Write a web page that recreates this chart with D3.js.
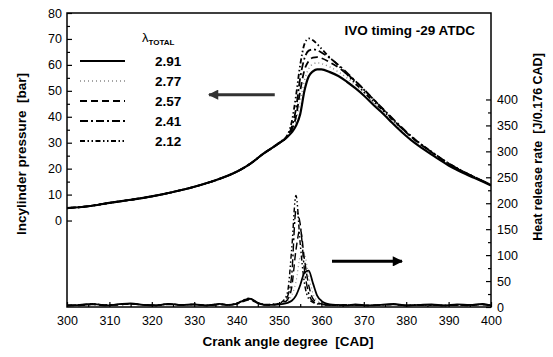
<!DOCTYPE html>
<html><head><meta charset="utf-8">
<script src="https://cdn.jsdelivr.net/npm/d3@7"></script>
<style>
body{margin:0;background:#fff}
svg{display:block}
text{font-family:"Liberation Sans",Arial,sans-serif;fill:#000;white-space:pre}
</style>
</head><body>
<svg id="c" width="553" height="357"></svg>
<script>
// ---------- data ----------
const lambdas = ["2.91", "2.77", "2.57", "2.41", "2.12"];
const cadP = [300,305,310,315,320,325,330,335,340,342,344,346,348,350,352,353,354,355,356,357,358,359,360,362,364,366,368,370,372,374,376,378,380,382,384,386,388,390,392,394,396,398,400];
const p291 = [4.8,5.5,6.8,8.0,9.3,11.0,13.0,15.5,18.8,20.6,22.8,25.4,27.6,29.8,32.3,34.0,36.5,41.0,50.0,55.5,57.5,58.3,58.3,57.2,55.7,53.5,51.0,48.2,45.0,42.0,38.8,35.6,32.6,29.9,27.6,25.4,23.3,21.2,19.5,17.9,16.5,15.0,13.5];
const p277 = [4.8,5.5,6.8,8.0,9.3,11.0,13.0,15.5,18.8,20.6,22.8,25.4,27.6,29.8,32.3,34.5,38.0,46.0,54.0,58.5,60.3,60.8,60.5,59.2,57.3,55.0,52.3,49.3,46.0,42.7,39.4,36.2,33.1,30.4,28.0,25.8,23.6,21.5,19.7,18.1,16.6,15.1,13.6];
const p257 = [4.8,5.5,6.8,8.0,9.3,11.0,13.0,15.5,18.8,20.6,22.8,25.4,27.6,29.8,32.3,35.0,40.0,50.0,58.0,61.5,62.8,63.0,62.6,61.0,59.0,56.5,53.7,50.6,47.2,43.8,40.4,37.1,34.0,31.1,28.6,26.3,24.0,21.9,20.0,18.3,16.8,15.2,13.7];
const p241 = [4.8,5.5,6.8,8.0,9.3,11.0,13.0,15.5,18.8,20.6,22.8,25.4,27.6,29.8,32.6,36.0,43.0,55.0,62.5,65.5,66.0,65.6,64.8,62.6,60.0,57.0,53.8,50.5,47.2,43.9,40.6,37.4,34.3,31.4,28.8,26.4,24.1,22.0,20.1,18.4,16.9,15.3,13.8];
const p212 = [4.8,5.5,6.8,8.0,9.3,11.0,13.0,15.5,18.8,20.6,22.8,25.4,27.6,30.0,33.0,38.0,48.0,60.0,68.0,70.2,69.5,68.0,66.3,62.8,59.8,56.4,52.9,49.6,46.3,43.2,40.1,37.0,34.0,31.3,28.8,26.5,24.2,22.1,20.2,18.5,16.9,15.3,13.8];

const cadH = [300,303,306,309,312,315,318,321,324,327,330,333,336,338,340,341,342,343,344,345,346,347,348,350,351,352,353,354,355,356,357,358,359,360,361,362,364,366,368,371,374,377,380,383,386,389,392,395,398,400];
const h291 = [3,4,6,3,5,7,4,3,6,4,5,3,6,4,6,10,14,16,13,8,5,4,4,5,6,8,12,22,42,66,70,46,22,12,7,5,4,3,5,3,4,6,3,4,5,3,5,4,6,3];
const h277 = [3,4,5,4,5,6,4,4,5,4,5,4,5,4,6,9,13,15,12,7,5,4,4,5,7,10,22,48,95,100,60,26,12,7,5,4,3,4,4,3,4,5,3,4,4,3,4,4,5,3];
const h257 = [3,3,5,4,4,6,4,3,5,4,5,3,5,4,6,9,12,14,11,7,5,4,4,6,8,14,38,110,150,92,42,16,9,6,5,4,3,4,4,3,4,5,3,4,4,3,4,3,5,3];
const h241 = [3,4,5,3,5,6,4,4,6,4,5,3,5,4,7,10,13,15,12,8,5,4,5,6,9,20,62,185,160,72,26,11,7,5,4,4,3,4,4,3,4,5,3,4,4,3,4,4,5,3];
const h212 = [3,4,6,4,5,6,4,3,6,4,5,3,6,4,7,11,15,17,13,8,6,5,5,7,12,28,112,215,122,46,16,9,6,5,4,4,3,4,4,3,4,5,3,4,4,3,4,4,5,3];

const xTicks = [300,310,320,330,340,350,360,370,380,390,400];
const pTicks = [0,10,20,30,40,50,60,70,80];
const hTicks = [0,50,100,150,200,250,300,350,400];

// ---------- layout ----------
const L = 67, R = 491, T = 13, B = 307;
const svg = d3.select("#c");
const x = d3.scaleLinear().domain([300, 400]).range([L, R]);
const yP = d3.scaleLinear().domain([-100/3, 80]).range([B, T]);
const yH = d3.scaleLinear().domain([0, 1700/3]).range([B, T]);

const styles = [
  {dash: null, w: 2.2, c: "#000"},
  {dash: "1,3", w: 1.4, c: "#888"},
  {dash: "7,4", w: 1.8, c: "#000"},
  {dash: "8,3,2,3", w: 1.8, c: "#000"},
  {dash: "5,2.5,1.5,2.5,1.5,2.5", w: 1.8, c: "#000"}
];

svg.append("clipPath").attr("id", "clip").append("rect")
  .attr("x", L).attr("y", T).attr("width", R - L).attr("height", B - T);

const g = svg.append("g").attr("clip-path", "url(#clip)");
const pSeries = [p291, p277, p257, p241, p212];
const hSeries = [h291, h277, h257, h241, h212];
const lineP = d3.line().x((d, i) => x(cadP[i])).y(d => yP(d)).curve(d3.curveMonotoneX);
const lineH = d3.line().x((d, i) => x(cadH[i])).y(d => yH(d)).curve(d3.curveMonotoneX);

[1, 2, 3, 4, 0].forEach(k => {
  const s = styles[k];
  g.append("path").attr("d", lineP(pSeries[k])).attr("fill", "none")
    .attr("stroke", s.c).attr("stroke-width", s.w).attr("stroke-dasharray", s.dash);
  g.append("path").attr("d", lineH(hSeries[k])).attr("fill", "none")
    .attr("stroke", s.c).attr("stroke-width", s.w * 0.8).attr("stroke-dasharray", s.dash);
});

// ---------- axes ----------
const axFont = g2 => g2.selectAll("text").style("font-size", "12.5px").style("font-family", "'Liberation Sans',Arial,sans-serif");
const xAx = svg.append("g").attr("transform", `translate(0,${B})`)
  .call(d3.axisBottom(x).tickValues(xTicks).tickSize(-5).tickPadding(9).tickFormat(d3.format("d")));
xAx.call(axFont);
svg.append("g").attr("transform", `translate(0,${B})`)
  .call(d3.axisBottom(x).tickValues(d3.range(305, 400, 10)).tickSize(-3).tickFormat(""));
const yAx = svg.append("g").attr("transform", `translate(${L},0)`)
  .call(d3.axisLeft(yP).tickValues(pTicks).tickSize(-5).tickPadding(5));
yAx.call(axFont);
svg.append("g").attr("transform", `translate(${L},0)`)
  .call(d3.axisLeft(yP).tickValues(d3.range(5, 80, 10)).tickSize(-3).tickFormat(""));
const hAx = svg.append("g").attr("transform", `translate(${R},0)`)
  .call(d3.axisRight(yH).tickValues(hTicks).tickSize(-5).tickPadding(6));
hAx.call(axFont);
svg.append("g").attr("transform", `translate(${R},0)`)
  .call(d3.axisRight(yH).tickValues(d3.range(25, 400, 50)).tickSize(-3).tickFormat(""));
svg.selectAll(".domain").remove();
svg.selectAll(".tick line").attr("stroke", "#000").attr("stroke-width", 1.2);
svg.append("rect").attr("x", L).attr("y", T).attr("width", R - L).attr("height", B - T)
  .attr("fill", "none").attr("stroke", "#000").attr("stroke-width", 1.5);

// ---------- titles ----------
svg.append("text").attr("x", 288).attr("y", 346).attr("text-anchor", "middle")
  .style("font-size", "13.5px").style("font-weight", "bold").text("Crank angle degree  [CAD]");
svg.append("text").attr("transform", `translate(26,154) rotate(-90)`).attr("text-anchor", "middle")
  .style("font-size", "13.5px").style("font-weight", "bold").text("Incylinder pressure  [bar]");
svg.append("text").attr("transform", `translate(542,147) rotate(-90)`).attr("text-anchor", "middle")
  .style("font-size", "12.5px").style("font-weight", "bold").text("Heat release rate  [J/0.176 CAD]");
svg.append("text").attr("x", 475).attr("y", 35).attr("text-anchor", "end")
  .style("font-size", "13.5px").style("font-weight", "bold").text("IVO timing -29 ATDC");

// ---------- legend ----------
const lg = svg.append("g");
const lt = lg.append("text").attr("x", 142).attr("y", 42).style("font-size", "13px");
lt.append("tspan").text("λ");
lt.append("tspan").attr("dy", 3).style("font-size", "8px").style("font-weight", "bold").text("TOTAL");
lambdas.forEach((lab, i) => {
  const yy = 61 + i * 20;
  const s = styles[i];
  lg.append("line").attr("x1", 80).attr("x2", 125).attr("y1", yy).attr("y2", yy)
    .attr("stroke", s.c).attr("stroke-width", s.w).attr("stroke-dasharray", s.dash);
  lg.append("text").attr("x", 155).attr("y", yy + 5).style("font-size", "13.5px").style("font-weight", "bold").text(lab);
});

// ---------- arrows ----------
svg.append("defs").html(
  '<marker id="ah" viewBox="0 0 10 10" refX="9" refY="5" markerWidth="4.5" markerHeight="3.4" orient="auto" markerUnits="strokeWidth"><path d="M0,0L10,5L0,10z" fill="#000"/></marker>' +
  '<marker id="ah2" viewBox="0 0 10 10" refX="9" refY="5" markerWidth="4.5" markerHeight="3.4" orient="auto" markerUnits="strokeWidth"><path d="M0,0L10,5L0,10z" fill="#333"/></marker>');
svg.append("line").attr("x1", x(349)).attr("x2", x(333.5)).attr("y1", yP(48.5)).attr("y2", yP(48.5))
  .attr("stroke", "#333").attr("stroke-width", 3).attr("marker-end", "url(#ah2)");
svg.append("line").attr("x1", x(362.5)).attr("x2", x(379)).attr("y1", yH(88)).attr("y2", yH(88))
  .attr("stroke", "#000").attr("stroke-width", 3).attr("marker-end", "url(#ah)");
</script>
</body></html>
